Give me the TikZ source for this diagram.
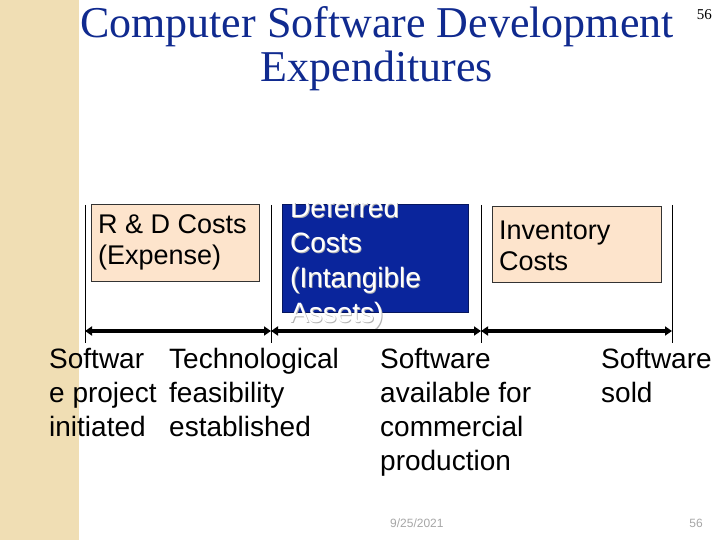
\documentclass[tikz,border=0pt]{standalone}
\usepackage{fontspec}
\setmainfont{Liberation Sans}
\newfontfamily\serifface{Liberation Serif}
\usetikzlibrary{arrows.meta,positioning}
\definecolor{TitleBlue}{HTML}{102A8F}
\definecolor{PeachFill}{HTML}{FDE4CC}
\definecolor{DeferredBlue}{HTML}{0A259C}
\definecolor{StripeTan}{HTML}{F0DEB4}
\definecolor{FooterGrey}{HTML}{A6A6A6}
\begin{document}
\begin{tikzpicture}[x=1pt,y=1pt,
  costbox/.style={draw=black!80,line width=0.6pt,anchor=north west,inner sep=0pt},
  boxtext/.style={anchor=north west,inner sep=0pt,align=left,font=\fontsize{27}{31}\selectfont},
  eventtext/.style={anchor=north west,inner sep=0pt,align=left,font=\fontsize{28}{34}\selectfont},
  phaseline/.style={line width=0.8pt},
  span/.style={line width=3.6pt,{Triangle[length=7pt,width=9pt]}-{Triangle[length=7pt,width=9pt]}}]
  \useasboundingbox (0,0) rectangle (720,-540);
  \fill[StripeTan] (0,0) rectangle (79,-540);
  % title
  \node[font=\serifface\fontsize{44}{43}\selectfont,text=TitleBlue,align=center,anchor=north,inner sep=0pt] (title) at (377,-6) {\strut Computer Software Development\\Expenditures};
  \node[font=\serifface\fontsize{15}{18}\selectfont,anchor=base east,inner sep=0pt] (slidenum) at (712,-20) {56};
  % cost boxes
  \node[costbox,fill=PeachFill,minimum width=168pt,minimum height=77pt] (rdbox) at (91,-204) {};
  \node[boxtext] (rdtext) at (98,-212) {\strut R \& D Costs\\(Expense)};
  \node[costbox,draw=DeferredBlue!60!black,fill=DeferredBlue,minimum width=186pt,minimum height=108pt] (dfbox) at (282,-204) {};
  \begin{scope}
    \clip (282,-204) rectangle (720,-540);
    \node[eventtext,font=\fontsize{28}{35}\selectfont,text=black!30] (dfshadow) at (290.8,-193.3) {\strut Deferred\\Costs\\(Intangible\\Assets)};
    \node[eventtext,font=\fontsize{28}{35}\selectfont,text=white] (dftext) at (290,-192.5) {\strut Deferred\\Costs\\(Intangible\\Assets)};
  \end{scope}
  \node[costbox,fill=PeachFill,minimum width=169pt,minimum height=76pt] (invbox) at (492,-206) {};
  \node[boxtext] (invtext) at (499,-218) {\strut Inventory\\Costs};
  % time line
  \foreach \x/\n in {85/a,271/b,481/c,672/d}{
    \coordinate (top-\n) at (\x,-205);
    \coordinate (bot-\n) at (\x,-343);
    \coordinate (mid-\n) at (\x,-331);
    \draw[phaseline] (top-\n) -- (bot-\n);
  }
  \draw[span] (mid-a) -- (mid-b);
  \draw[span] (mid-b) -- (mid-c);
  \draw[span] (mid-c) -- (mid-d);
  % events
  \node[eventtext] (ev1) at (49,-344.2) {\strut Softwar\\e project\\initiated};
  \node[eventtext] (ev2) at (169,-344.2) {\strut Technological\\feasibility\\established};
  \node[eventtext] (ev3) at (380,-344.2) {\strut Software\\available for\\commercial\\production};
  \node[eventtext] (ev4) at (601,-344.2) {\strut Software\\sold};
  % footer
  \node[font=\fontsize{12}{14}\selectfont,text=FooterGrey,anchor=base west,inner sep=0pt] (date) at (390,-527.5) {9/25/2021};
  \node[font=\fontsize{12}{14}\selectfont,text=FooterGrey,anchor=base east,inner sep=0pt] (pagenum) at (703,-527.5) {56};
\end{tikzpicture}
\end{document}
